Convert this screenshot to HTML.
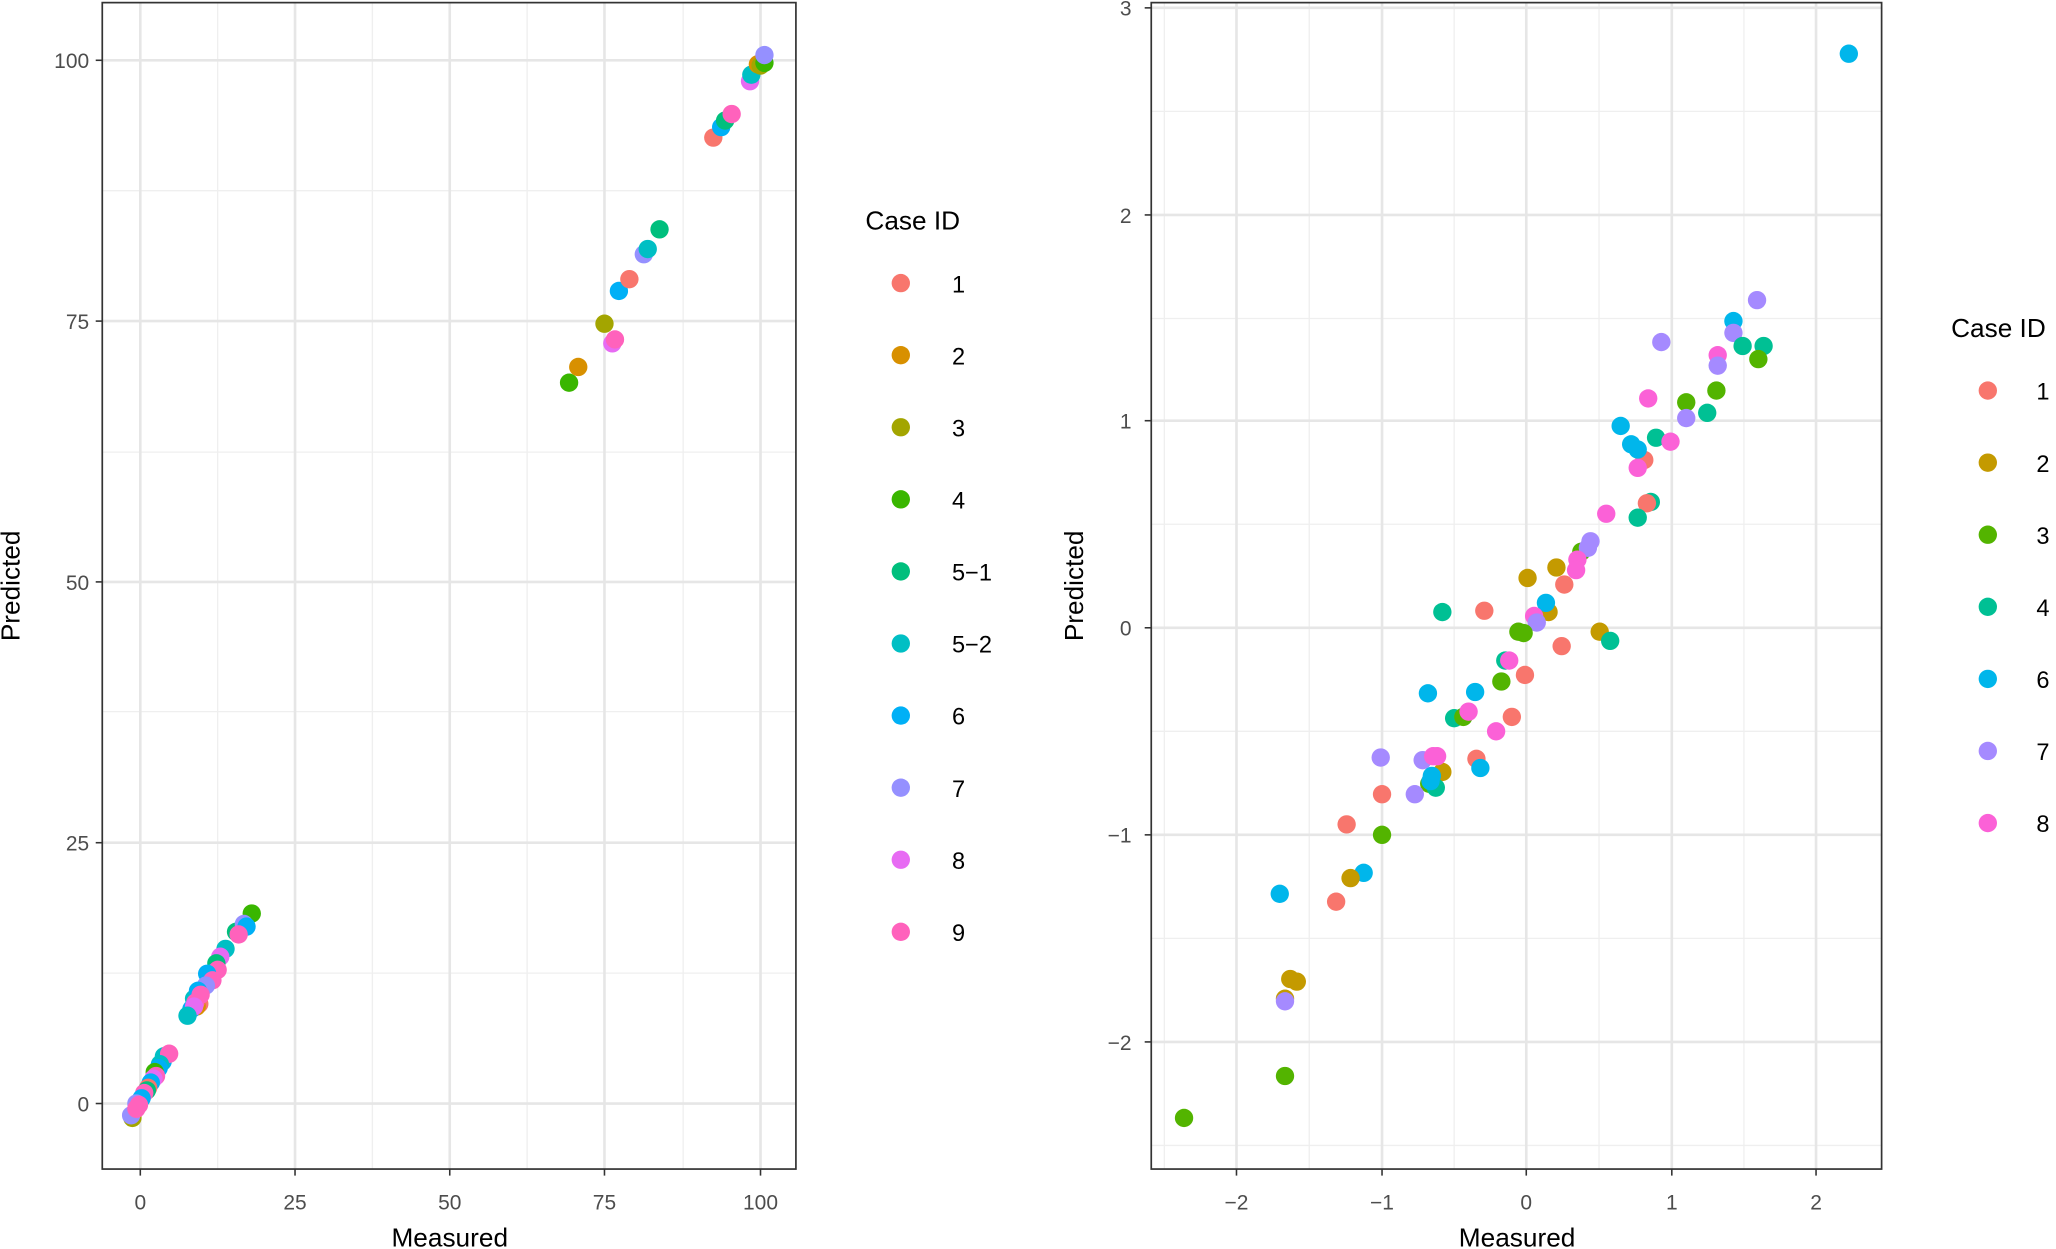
<!DOCTYPE html>
<html><head><meta charset="utf-8"><style>
html,body{margin:0;padding:0;background:#fff;}
svg{display:block}
text{font-family:"Liberation Sans",sans-serif;}
.t{font-size:16px;fill:#4d4d4d}
.a{font-size:20px;fill:#000}
.l{font-size:18px;fill:#000}
.M{stroke:#e6e6e6;stroke-width:2}
.m{stroke:#efefef;stroke-width:1}
</style></head><body>
<svg width="2056" height="1249" viewBox="0 0 1568 953" preserveAspectRatio="none" xmlns="http://www.w3.org/2000/svg">
<rect width="1568" height="953" fill="#fff"/>
<!-- LEFT PANEL -->
<g>
<g class="m">
<line x1="78" x2="607" y1="145.5" y2="145.5"/><line x1="78" x2="607" y1="345" y2="345"/><line x1="78" x2="607" y1="543" y2="543"/><line x1="78" x2="607" y1="742.5" y2="742.5"/>
<line y1="2" y2="892" x1="166" x2="166"/><line y1="2" y2="892" x1="284" x2="284"/><line y1="2" y2="892" x1="402" x2="402"/><line y1="2" y2="892" x1="521" x2="521"/>
</g>
<g class="M">
<line x1="78" x2="607" y1="46" y2="46"/><line x1="78" x2="607" y1="245" y2="245"/><line x1="78" x2="607" y1="444" y2="444"/><line x1="78" x2="607" y1="643" y2="643"/><line x1="78" x2="607" y1="842" y2="842"/>
<line y1="2" y2="892" x1="107" x2="107"/><line y1="2" y2="892" x1="225" x2="225"/><line y1="2" y2="892" x1="343" x2="343"/><line y1="2" y2="892" x1="461" x2="461"/><line y1="2" y2="892" x1="580" x2="580"/>
</g>
<g>
<circle cx="544" cy="105" r="7" fill="#F8766D"/><circle cx="550" cy="97" r="7" fill="#00B0F6"/><circle cx="553" cy="92" r="7" fill="#00BF7D"/><circle cx="558" cy="87" r="7" fill="#FF62BC"/><circle cx="572" cy="62" r="7" fill="#E76BF3"/><circle cx="573" cy="57" r="7" fill="#00BFC4"/><circle cx="578" cy="49" r="7" fill="#D89000"/><circle cx="580" cy="50" r="7" fill="#A3A500"/><circle cx="583" cy="48" r="7" fill="#39B600"/><circle cx="583" cy="42" r="7" fill="#9590FF"/>
<circle cx="434" cy="292" r="7" fill="#39B600"/><circle cx="441" cy="280" r="7" fill="#D89000"/><circle cx="461" cy="247" r="7" fill="#A3A500"/><circle cx="467" cy="262" r="7" fill="#E76BF3"/><circle cx="469" cy="259" r="7" fill="#FF62BC"/><circle cx="472" cy="222" r="7" fill="#00B0F6"/><circle cx="480" cy="213" r="7" fill="#F8766D"/><circle cx="491" cy="194" r="7" fill="#9590FF"/><circle cx="494" cy="190" r="7" fill="#00BFC4"/><circle cx="503" cy="175" r="7" fill="#00BF7D"/>
<circle cx="192" cy="697" r="7" fill="#39B600"/><circle cx="180" cy="711" r="7" fill="#00BF7D"/><circle cx="186" cy="705" r="7" fill="#9590FF"/><circle cx="188" cy="707" r="7" fill="#00B0F6"/><circle cx="182" cy="713" r="7" fill="#FF62BC"/><circle cx="172" cy="724" r="7" fill="#00BFC4"/><circle cx="168" cy="730" r="7" fill="#E76BF3"/><circle cx="165" cy="735" r="7" fill="#00BF7D"/><circle cx="163" cy="742" r="7" fill="#00B0F6"/><circle cx="166" cy="740" r="7" fill="#FF62BC"/><circle cx="158" cy="743" r="7" fill="#00B0F6"/><circle cx="162" cy="748" r="7" fill="#FF62BC"/><circle cx="157" cy="752" r="7" fill="#9590FF"/><circle cx="152" cy="766" r="7" fill="#F8766D"/><circle cx="150" cy="768" r="7" fill="#D89000"/><circle cx="148" cy="762" r="7" fill="#00BFC4"/><circle cx="151" cy="756" r="7" fill="#00B0F6"/><circle cx="153" cy="759" r="7" fill="#FF62BC"/><circle cx="149" cy="765" r="7" fill="#FF62BC"/><circle cx="146" cy="770" r="7" fill="#00B0F6"/><circle cx="148" cy="768" r="7" fill="#E76BF3"/><circle cx="143" cy="775" r="7" fill="#00BFC4"/>
<circle cx="124" cy="810" r="7" fill="#00B0F6"/><circle cx="125" cy="806" r="7" fill="#00BFC4"/><circle cx="129" cy="804" r="7" fill="#FF62BC"/><circle cx="122" cy="812" r="7" fill="#00BFC4"/><circle cx="121" cy="815" r="7" fill="#00B0F6"/><circle cx="118" cy="818" r="7" fill="#39B600"/><circle cx="119" cy="821" r="7" fill="#FF62BC"/><circle cx="117" cy="823" r="7" fill="#E76BF3"/><circle cx="115" cy="826" r="7" fill="#00B0F6"/><circle cx="113" cy="830" r="7" fill="#F8766D"/><circle cx="112" cy="832" r="7" fill="#00BF7D"/><circle cx="110" cy="834" r="7" fill="#FF62BC"/><circle cx="108" cy="838" r="7" fill="#00B0F6"/><circle cx="101" cy="852" r="7" fill="#D89000"/><circle cx="101" cy="853" r="7" fill="#A3A500"/><circle cx="100" cy="851" r="7" fill="#9590FF"/><circle cx="104" cy="842" r="7" fill="#9590FF"/><circle cx="106" cy="843" r="7" fill="#FF62BC"/><circle cx="104" cy="846" r="7" fill="#FF62BC"/>
</g>
<rect x="78" y="2" width="529" height="890" fill="none" stroke="#333" stroke-width="1.3"/>
<g stroke="#333" stroke-width="1.2">
<line x1="73" x2="78" y1="46" y2="46"/><line x1="73" x2="78" y1="245" y2="245"/><line x1="73" x2="78" y1="444" y2="444"/><line x1="73" x2="78" y1="643" y2="643"/><line x1="73" x2="78" y1="842" y2="842"/>
<line y1="892" y2="897" x1="107" x2="107"/><line y1="892" y2="897" x1="225" x2="225"/><line y1="892" y2="897" x1="343" x2="343"/><line y1="892" y2="897" x1="461" x2="461"/><line y1="892" y2="897" x1="580" x2="580"/>
</g>
<g class="t" text-anchor="end">
<text x="68" y="52">100</text><text x="68" y="251">75</text><text x="68" y="450">50</text><text x="68" y="649">25</text><text x="68" y="848">0</text>
</g>
<g class="t" text-anchor="middle">
<text x="107" y="923">0</text><text x="225" y="923">25</text><text x="343" y="923">50</text><text x="461" y="923">75</text><text x="580" y="923">100</text>
</g>
<text class="a" x="343" y="951" text-anchor="middle">Measured</text>
<text class="a" transform="translate(15,447) rotate(-90)" text-anchor="middle">Predicted</text>
<text class="a" x="660" y="175">Case ID</text>
<g>
<circle cx="687" cy="216" r="7" fill="#F8766D"/><circle cx="687" cy="271" r="7" fill="#D89000"/><circle cx="687" cy="326" r="7" fill="#A3A500"/><circle cx="687" cy="381" r="7" fill="#39B600"/><circle cx="687" cy="436" r="7" fill="#00BF7D"/><circle cx="687" cy="491" r="7" fill="#00BFC4"/><circle cx="687" cy="546" r="7" fill="#00B0F6"/><circle cx="687" cy="601" r="7" fill="#9590FF"/><circle cx="687" cy="656" r="7" fill="#E76BF3"/><circle cx="687" cy="711" r="7" fill="#FF62BC"/>
</g>
<g class="l">
<text x="726" y="223">1</text><text x="726" y="278">2</text><text x="726" y="333">3</text><text x="726" y="388">4</text><text x="726" y="443">5−1</text><text x="726" y="498">5−2</text><text x="726" y="553">6</text><text x="726" y="608">7</text><text x="726" y="663">8</text><text x="726" y="718">9</text>
</g>
</g>
<!-- RIGHT PANEL -->
<g>
<g class="m">
<line x1="878" x2="1435" y1="85" y2="85"/><line x1="878" x2="1435" y1="243" y2="243"/><line x1="878" x2="1435" y1="400" y2="400"/><line x1="878" x2="1435" y1="558" y2="558"/><line x1="878" x2="1435" y1="716" y2="716"/><line x1="878" x2="1435" y1="874" y2="874"/>
<line y1="2" y2="892" x1="888" x2="888"/><line y1="2" y2="892" x1="998.5" x2="998.5"/><line y1="2" y2="892" x1="1109" x2="1109"/><line y1="2" y2="892" x1="1219.5" x2="1219.5"/><line y1="2" y2="892" x1="1330" x2="1330"/>
</g>
<g class="M">
<line x1="878" x2="1435" y1="6" y2="6"/><line x1="878" x2="1435" y1="164" y2="164"/><line x1="878" x2="1435" y1="321" y2="321"/><line x1="878" x2="1435" y1="479" y2="479"/><line x1="878" x2="1435" y1="637" y2="637"/><line x1="878" x2="1435" y1="795" y2="795"/>
<line y1="2" y2="892" x1="943" x2="943"/><line y1="2" y2="892" x1="1054" x2="1054"/><line y1="2" y2="892" x1="1164" x2="1164"/><line y1="2" y2="892" x1="1275" x2="1275"/><line y1="2" y2="892" x1="1385" x2="1385"/>
</g>
<g>
<circle cx="1410" cy="41" r="7" fill="#00B6EB"/>
<circle cx="1340" cy="229" r="7" fill="#A58AFF"/><circle cx="1322" cy="245" r="7" fill="#00B6EB"/><circle cx="1322" cy="254" r="7" fill="#A58AFF"/><circle cx="1329" cy="264" r="7" fill="#00C094"/><circle cx="1345" cy="264" r="7" fill="#00C094"/><circle cx="1341" cy="274" r="7" fill="#53B400"/><circle cx="1267" cy="261" r="7" fill="#A58AFF"/><circle cx="1310" cy="271" r="7" fill="#FB61D7"/><circle cx="1310" cy="279" r="7" fill="#A58AFF"/><circle cx="1309" cy="298" r="7" fill="#53B400"/><circle cx="1286" cy="307" r="7" fill="#53B400"/><circle cx="1302" cy="315" r="7" fill="#00C094"/><circle cx="1286" cy="319" r="7" fill="#A58AFF"/><circle cx="1257" cy="304" r="7" fill="#FB61D7"/><circle cx="1236" cy="325" r="7" fill="#00B6EB"/><circle cx="1263" cy="334" r="7" fill="#00C094"/><circle cx="1274" cy="337" r="7" fill="#FB61D7"/><circle cx="1254" cy="351" r="7" fill="#F8766D"/><circle cx="1244" cy="339" r="7" fill="#00B6EB"/><circle cx="1249" cy="343" r="7" fill="#00B6EB"/><circle cx="1249" cy="357" r="7" fill="#FB61D7"/><circle cx="1225" cy="392" r="7" fill="#FB61D7"/><circle cx="1259" cy="383" r="7" fill="#00C094"/><circle cx="1256" cy="384" r="7" fill="#F8766D"/><circle cx="1249" cy="395" r="7" fill="#00C094"/><circle cx="1206" cy="421" r="7" fill="#53B400"/><circle cx="1213" cy="413" r="7" fill="#A58AFF"/><circle cx="1211" cy="418" r="7" fill="#A58AFF"/><circle cx="1203" cy="427" r="7" fill="#FB61D7"/><circle cx="1202" cy="435" r="7" fill="#FB61D7"/><circle cx="1187" cy="433" r="7" fill="#C49A00"/><circle cx="1165" cy="441" r="7" fill="#C49A00"/><circle cx="1193" cy="446" r="7" fill="#F8766D"/><circle cx="1132" cy="466" r="7" fill="#F8766D"/><circle cx="1100" cy="467" r="7" fill="#00C094"/><circle cx="1181" cy="467" r="7" fill="#C49A00"/><circle cx="1179" cy="460" r="7" fill="#00B6EB"/><circle cx="1170" cy="470" r="7" fill="#FB61D7"/><circle cx="1172" cy="475" r="7" fill="#A58AFF"/><circle cx="1158" cy="482" r="7" fill="#53B400"/><circle cx="1162" cy="483" r="7" fill="#53B400"/><circle cx="1220" cy="482" r="7" fill="#C49A00"/><circle cx="1228" cy="489" r="7" fill="#00C094"/><circle cx="1191" cy="493" r="7" fill="#F8766D"/><circle cx="1163" cy="515" r="7" fill="#F8766D"/><circle cx="1148" cy="504" r="7" fill="#00C094"/><circle cx="1151" cy="504" r="7" fill="#FB61D7"/><circle cx="1145" cy="520" r="7" fill="#53B400"/><circle cx="1089" cy="529" r="7" fill="#00B6EB"/><circle cx="1125" cy="528" r="7" fill="#00B6EB"/><circle cx="1153" cy="547" r="7" fill="#F8766D"/><circle cx="1109" cy="548" r="7" fill="#00C094"/><circle cx="1116" cy="547" r="7" fill="#53B400"/><circle cx="1120" cy="543" r="7" fill="#FB61D7"/><circle cx="1141" cy="558" r="7" fill="#FB61D7"/><circle cx="1053" cy="578" r="7" fill="#A58AFF"/><circle cx="1100" cy="589" r="7" fill="#C49A00"/><circle cx="1085" cy="580" r="7" fill="#A58AFF"/><circle cx="1093" cy="577" r="7" fill="#FB61D7"/><circle cx="1096" cy="577" r="7" fill="#FB61D7"/><circle cx="1126" cy="579" r="7" fill="#F8766D"/><circle cx="1129" cy="586" r="7" fill="#00B6EB"/><circle cx="1090" cy="598" r="7" fill="#53B400"/><circle cx="1095" cy="601" r="7" fill="#00C094"/><circle cx="1092" cy="592" r="7" fill="#00B6EB"/><circle cx="1091" cy="596" r="7" fill="#00B6EB"/><circle cx="1079" cy="606" r="7" fill="#A58AFF"/><circle cx="1054" cy="606" r="7" fill="#F8766D"/><circle cx="1027" cy="629" r="7" fill="#F8766D"/><circle cx="1054" cy="637" r="7" fill="#53B400"/><circle cx="1040" cy="666" r="7" fill="#00B6EB"/><circle cx="1030" cy="670" r="7" fill="#C49A00"/><circle cx="1019" cy="688" r="7" fill="#F8766D"/><circle cx="976" cy="682" r="7" fill="#00B6EB"/><circle cx="984" cy="747" r="7" fill="#C49A00"/><circle cx="989" cy="749" r="7" fill="#C49A00"/><circle cx="980" cy="762" r="7" fill="#C49A00"/><circle cx="980" cy="764" r="7" fill="#A58AFF"/><circle cx="980" cy="821" r="7" fill="#53B400"/><circle cx="903" cy="853" r="7" fill="#53B400"/>
</g>
<rect x="878" y="2" width="557" height="890" fill="none" stroke="#333" stroke-width="1.3"/>
<g stroke="#333" stroke-width="1.2">
<line x1="873" x2="878" y1="6" y2="6"/><line x1="873" x2="878" y1="164" y2="164"/><line x1="873" x2="878" y1="321" y2="321"/><line x1="873" x2="878" y1="479" y2="479"/><line x1="873" x2="878" y1="637" y2="637"/><line x1="873" x2="878" y1="795" y2="795"/>
<line y1="892" y2="897" x1="943" x2="943"/><line y1="892" y2="897" x1="1054" x2="1054"/><line y1="892" y2="897" x1="1164" x2="1164"/><line y1="892" y2="897" x1="1275" x2="1275"/><line y1="892" y2="897" x1="1385" x2="1385"/>
</g>
<g class="t" text-anchor="end">
<text x="863" y="12">3</text><text x="863" y="170">2</text><text x="863" y="327">1</text><text x="863" y="485">0</text><text x="863" y="643">−1</text><text x="863" y="801">−2</text>
</g>
<g class="t" text-anchor="middle">
<text x="943" y="923">−2</text><text x="1054" y="923">−1</text><text x="1164" y="923">0</text><text x="1275" y="923">1</text><text x="1385" y="923">2</text>
</g>
<text class="a" x="1157" y="951" text-anchor="middle">Measured</text>
<text class="a" transform="translate(826,447) rotate(-90)" text-anchor="middle">Predicted</text>
<text class="a" x="1488" y="257">Case ID</text>
<g>
<circle cx="1516" cy="298" r="7" fill="#F8766D"/><circle cx="1516" cy="353" r="7" fill="#C49A00"/><circle cx="1516" cy="408" r="7" fill="#53B400"/><circle cx="1516" cy="463" r="7" fill="#00C094"/><circle cx="1516" cy="518" r="7" fill="#00B6EB"/><circle cx="1516" cy="573" r="7" fill="#A58AFF"/><circle cx="1516" cy="628" r="7" fill="#FB61D7"/>
</g>
<g class="l">
<text x="1553" y="305">1</text><text x="1553" y="360">2</text><text x="1553" y="415">3</text><text x="1553" y="470">4</text><text x="1553" y="525">6</text><text x="1553" y="580">7</text><text x="1553" y="635">8</text>
</g>
</g>
</svg>
</body></html>
